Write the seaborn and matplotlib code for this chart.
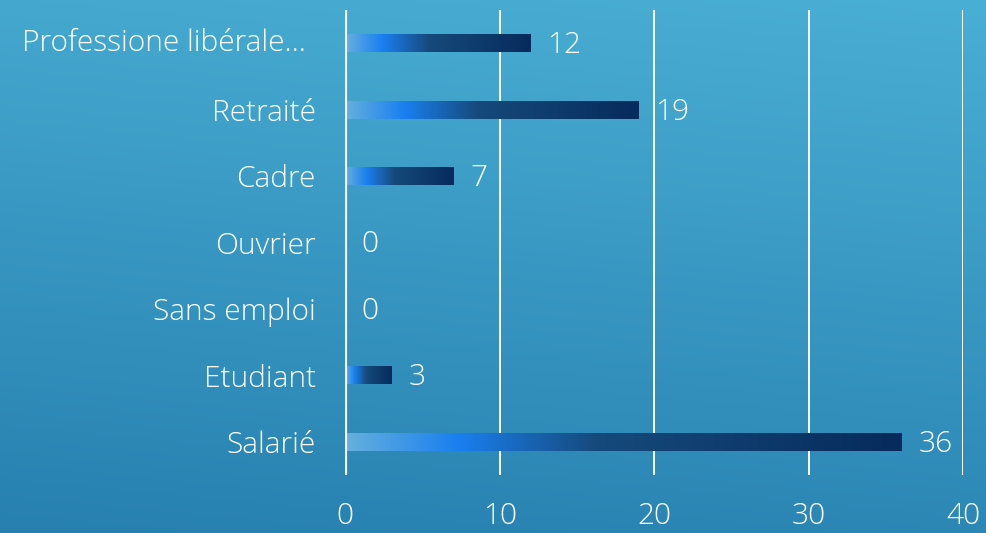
import numpy as np
import pandas as pd
import seaborn as sns
import matplotlib.pyplot as plt
from matplotlib.colors import LinearSegmentedColormap
import matplotlib.transforms as mtransforms

# data
categories = ["Professione libérale…", "Retraité", "Cadre", "Ouvrier",
              "Sans emploi", "Etudiant", "Salarié"]
counts = [12, 19, 7, 0, 0, 3, 36]
x_ticks = [0, 10, 20, 30, 40]

df = pd.DataFrame({"categorie": categories, "nombre": counts})

sns.set_theme(style="white")
plt.rcParams["font.family"] = ["Open Sans", "DejaVu Sans"]
plt.rcParams["font.weight"] = "light"

FS = 21.5

fig = plt.figure(figsize=(9.86, 5.33), dpi=100)

# fond dégradé
bg_ax = fig.add_axes([0, 0, 1, 1], zorder=-10)
yy, xx = np.mgrid[0:1:200j, 0:1:200j]
t = 0.85 * yy + 0.15 * xx
bg_cmap = LinearSegmentedColormap.from_list("bg", ["#2780b0", "#4aafd4"])
bg_ax.imshow(t, cmap=bg_cmap, origin="lower", extent=[0, 1, 0, 1], aspect="auto")
bg_ax.axis("off")

ax = fig.add_axes([0.35, 0.109, 0.627, 0.872])
ax.patch.set_alpha(0)

sns.barplot(data=df, x="nombre", y="categorie", orient="h", width=0.27,
            color="#1a80f0", ax=ax)

# dégradé des barres
bar_cmap = LinearSegmentedColormap.from_list(
    "bar", [(0, "#66b0dc"), (0.2, "#1a80f0"), (0.45, "#164a7c"), (1, "#062b5c")])
grad = np.linspace(0, 1, 256).reshape(1, -1)
for patch in ax.patches:
    x0, y0 = patch.get_x(), patch.get_y()
    w, h = patch.get_width(), patch.get_height()
    patch.set_facecolor("none")
    patch.set_edgecolor("none")
    if w <= 0:
        continue
    im = ax.imshow(grad, cmap=bar_cmap, extent=[x0, x0 + w, y0 + h, y0],
                   aspect="auto", zorder=3)
    im.set_clip_path(patch)

ax.set_ylim(6.5, -0.5)
ax.set_xlim(0, 40)

# grille et axe
for v in x_ticks[1:]:
    ax.axvline(v, color="white", lw=1.4, zorder=1)
ax.axvline(0, color="white", lw=3, zorder=4)

for s in ax.spines.values():
    s.set_visible(False)

ax.set_xticks(x_ticks)
ax.tick_params(axis="x", length=0, pad=19, labelsize=FS, labelcolor="white")
ax.tick_params(axis="y", length=0, pad=21, labelsize=FS, labelcolor="white")
ax.set_xlabel("")
ax.set_ylabel("")

# libellé long aligné à gauche
labels = [lab.get_text() for lab in ax.get_yticklabels()]
labels[0] = ""
ax.set_yticklabels(labels)
trans = mtransforms.blended_transform_factory(fig.transFigure, ax.transData)
ax.text(22 / 986, 0, categories[0], transform=trans, ha="left", va="center",
        fontsize=FS, color="white")

# valeurs
for i, v in enumerate(counts):
    ax.annotate(str(v), xy=(v, i), xytext=(12, -1.5), textcoords="offset points",
                ha="left", va="center", fontsize=FS, color="white")

plt.savefig("out.png", dpi=100)
plt.close()
